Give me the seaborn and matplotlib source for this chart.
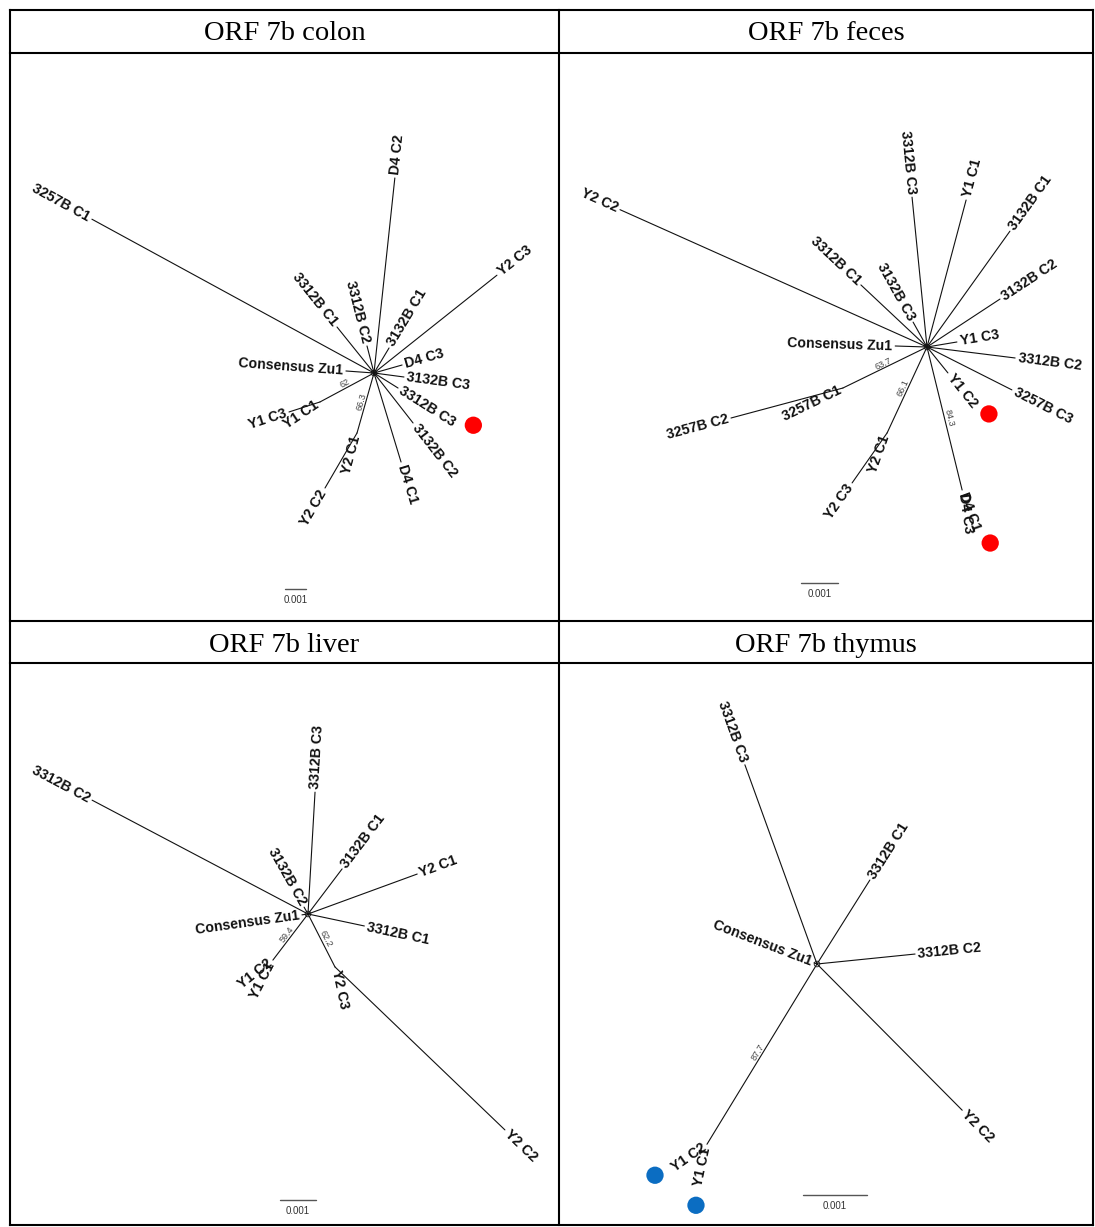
import math
import numpy as np
import pandas as pd
import matplotlib
matplotlib.use("Agg")
import matplotlib.pyplot as plt
import seaborn as sns

# ---------------------------------------------------------------------------
# Unrooted ORF 7b trees.  Branch angles in degrees (counter-clockwise from
# east), branch lengths in units of 0.001 substitutions/site.
# Leaves with a clade name hang from the end of that clade's internal branch.
# ---------------------------------------------------------------------------

# colon
colon_clades = ["Y1", "Y2"]
colon_clade_angle = [208.2, 254.2]
colon_clade_length = [2.92, 2.97]
colon_clade_support = ["62", "66.3"]
colon_leaves = ["3257B C1", "D4 C2", "Y2 C3", "3312B C1", "3312B C2", "3132B C1",
                "D4 C3", "3132B C3", "3312B C3", "3132B C2", "D4 C1",
                "Consensus Zu1", "Y2 C2", "Y2 C1", "Y1 C3", "Y1 C1"]
colon_leaf_clade = ["", "", "", "", "", "", "", "", "", "", "", "",
                    "Y2", "Y2", "Y1", "Y1"]
colon_leaf_angle = [151.4, 83.9, 38.5, 128.8, 104.5, 59.0, 15.9, -7.6, -32.0,
                    -52.0, -73.1, 175.9, 239.8, 255.0, 197.9, 214.0]
colon_leaf_length = [15.3, 9.34, 7.48, 2.81, 1.33, 1.39, 1.39, 1.44, 1.35,
                     3.02, 4.43, 1.34, 3.03, 0.0, 1.55, 0.0]

# feces
feces_clades = ["3257B", "Y2", "D4"]
feces_clade_angle = [206.0, 245.1, 283.8]
feces_clade_length = [2.53, 2.56, 3.98]
feces_clade_support = ["63.7", "66.1", "84.3"]
feces_leaves = ["Y2 C2", "3312B C3", "Y1 C1", "3132B C1", "3312B C1", "3132B C3",
                "3132B C2", "Y1 C3", "3312B C2", "3257B C3", "Y1 C2",
                "Consensus Zu1", "3257B C2", "3257B C1", "Y2 C3", "Y2 C1",
                "D4 C1", "D4 C3"]
feces_leaf_clade = ["", "", "", "", "", "", "", "", "", "", "", "",
                    "3257B", "3257B", "Y2", "Y2", "D4", "D4"]
feces_leaf_angle = [155.9, 95.7, 75.1, 54.4, 136.8, 119.2, 33.3, 9.5, -7.1,
                    -26.8, -51.1, 178.2, 195.0, 206.0, 235.0, 250.0, 290.0, 278.0]
feces_leaf_length = [9.09, 4.07, 4.11, 3.85, 2.45, 0.77, 2.36, 0.82, 2.40,
                     2.57, 0.90, 0.86, 3.13, 0.0, 1.65, 0.0, 0.0, 0.0]

# liver
liver_clades = ["Y1", "Y2"]
liver_clade_angle = [232.7, 297.0]
liver_clade_length = [1.61, 1.65]
liver_clade_support = ["59.4", "62.2"]
liver_leaves = ["3312B C2", "3312B C3", "3132B C1", "Y2 C1", "3312B C1",
                "3132B C2", "Consensus Zu1", "Y1 C2", "Y1 C1", "Y2 C3", "Y2 C2"]
liver_leaf_clade = ["", "", "", "", "", "", "", "Y1", "Y1", "Y2", "Y2"]
liver_leaf_angle = [152.2, 86.7, 52.9, 20.1, -12.0, 119.7, 188.0, 218.0, 243.0,
                    282.0, 316.2]
liver_leaf_length = [6.78, 3.39, 1.57, 3.23, 1.60, 0.22, 0.17, 0.0, 0.0, 0.0, 6.54]

# thymus
thymus_clades = ["Y1"]
thymus_clade_angle = [238.6]
thymus_clade_length = [3.30]
thymus_clade_support = ["87.7"]
thymus_leaves = ["3312B C3", "3312B C1", "3312B C2", "Consensus Zu1", "Y2 C2",
                 "Y1 C2", "Y1 C1"]
thymus_leaf_clade = ["", "", "", "", "", "Y1", "Y1"]
thymus_leaf_angle = [109.9, 57.8, 5.8, 159.0, -45.2, 215.0, 258.0]
thymus_leaf_length = [3.31, 1.55, 1.54, 0.05, 3.22, 0.0, 0.0]

titles = ["ORF 7b colon", "ORF 7b feces", "ORF 7b liver", "ORF 7b thymus"]
scale_value = 0.001
scale_label = "0.001"

# highlighted leaves: (panel, leaf, colour)
highlights = [("colon", "3312B C3", "#ff0000"),
              ("feces", "Y1 C2", "#ff0000"),
              ("feces", "D4 C1", "#ff0000"),
              ("thymus", "Y1 C2", "#0b6dc2"),
              ("thymus", "Y1 C1", "#0b6dc2")]

# ---------------------------------------------------------------------------
# layout (figure pixels)
# ---------------------------------------------------------------------------
W, H = 1095, 1227
layout = {
    "colon":  dict(center=(374, 373), ppu=21, bar=(295.5, 589)),
    "feces":  dict(center=(927, 347), ppu=37, bar=(819.5, 583)),
    "liver":  dict(center=(308, 914), ppu=36, bar=(298.0, 1200)),
    "thymus": dict(center=(817, 964), ppu=64, bar=(834.5, 1195)),
}
# dot offsets from the leaf tip: (distance px, screen angle deg)
dot_offset = {("colon", "3312B C3"): (84, -26.3),
              ("feces", "Y1 C2"): (58, -45.0),
              ("feces", "D4 C1"): (60, -62.1),
              ("thymus", "Y1 C2"): (60.5, 210.8),
              ("thymus", "Y1 C1"): (62, 259.8)}

trees = {
    "colon": (colon_clades, colon_clade_angle, colon_clade_length, colon_clade_support,
              colon_leaves, colon_leaf_clade, colon_leaf_angle, colon_leaf_length),
    "feces": (feces_clades, feces_clade_angle, feces_clade_length, feces_clade_support,
              feces_leaves, feces_leaf_clade, feces_leaf_angle, feces_leaf_length),
    "liver": (liver_clades, liver_clade_angle, liver_clade_length, liver_clade_support,
              liver_leaves, liver_leaf_clade, liver_leaf_angle, liver_leaf_length),
    "thymus": (thymus_clades, thymus_clade_angle, thymus_clade_length, thymus_clade_support,
               thymus_leaves, thymus_leaf_clade, thymus_leaf_angle, thymus_leaf_length),
}

sns.set_theme(style="white")
plt.rcParams["font.family"] = ["Liberation Sans", "DejaVu Sans"]

fig = plt.figure(figsize=(W / 100, H / 100), dpi=100)
ax = fig.add_axes([0, 0, 1, 1])


def unit(a):
    r = math.radians(a)
    return math.cos(r), -math.sin(r)   # y grows downward on screen


def readable(a):
    a = (a + 180.0) % 360.0 - 180.0
    if -90.0 < a <= 90.0:
        return a, "left"
    return (a - 180.0 if a > 0 else a + 180.0), "right"


tree_segments = []
bar_segments = []
labels = []
supports = []
centers = []
dots = []
seg_id = 0

for name, (cl, cl_a, cl_l, cl_s, lv, lv_c, lv_a, lv_l) in trees.items():
    cx, cy = layout[name]["center"]
    ppu = layout[name]["ppu"]
    centers.append((cx, cy))
    node = {"": (cx, cy)}
    for c, a, L, s in zip(cl, cl_a, cl_l, cl_s):
        ux, uy = unit(a)
        ex, ey = cx + ux * L * ppu, cy + uy * L * ppu
        node[c] = (ex, ey)
        tree_segments += [(seg_id, cx, cy), (seg_id, ex, ey)]
        seg_id += 1
        rot, _ = readable(a)
        supports.append(((cx + ex) / 2, (cy + ey) / 2, s, rot))
    for leaf, c, a, L in zip(lv, lv_c, lv_a, lv_l):
        sx, sy = node[c]
        ux, uy = unit(a)
        ex, ey = sx + ux * L * ppu, sy + uy * L * ppu
        if L > 0:
            tree_segments += [(seg_id, sx, sy), (seg_id, ex, ey)]
            seg_id += 1
        rot, ha = readable(a)
        labels.append((ex + ux * 3, ey + uy * 3, leaf, rot, ha))
        for (p, hl, col) in highlights:
            if p == name and hl == leaf:
                d, da = dot_offset[(p, hl)]
                dx, dy = unit(da)
                dots.append((ex + dx * d, ey + dy * d, col))
    # scale bar of 0.001 substitutions/site
    bx, by = layout[name]["bar"]
    half = scale_value * 1000 * ppu / 2
    bar_segments += [(seg_id, bx - half, by), (seg_id, bx + half, by)]
    seg_id += 1

tree_df = pd.DataFrame(tree_segments, columns=["seg", "x", "y"])
bar_df = pd.DataFrame(bar_segments, columns=["seg", "x", "y"])

sns.lineplot(data=tree_df, x="x", y="y", units="seg", estimator=None, sort=False,
             color="#111111", linewidth=0.8, ax=ax, legend=False)
sns.lineplot(data=bar_df, x="x", y="y", units="seg", estimator=None, sort=False,
             color="#555555", linewidth=1.0, ax=ax, legend=False)

# small hub at each tree centre
cdf = pd.DataFrame(centers, columns=["x", "y"])
sns.scatterplot(data=cdf, x="x", y="y", s=16, facecolor="none", edgecolor="#333333",
                linewidth=0.7, ax=ax, legend=False)

# highlight dots
ddf = pd.DataFrame(dots, columns=["x", "y", "c"])
sns.scatterplot(data=ddf, x="x", y="y", hue="c", palette={c: c for c in ddf["c"].unique()},
                s=155, edgecolor="none", ax=ax, legend=False)

for x, y, t, rot, ha in labels:
    ax.text(x, y, t, rotation=rot, ha=ha, va="center", rotation_mode="anchor",
            fontsize=10.2, fontweight="bold", color="#111111")

for x, y, t, rot in supports:
    ax.text(x, y, t, rotation=rot, ha="center", va="bottom", rotation_mode="anchor",
            fontsize=6.5, color="#444444")

for name in trees:
    bx, by = layout[name]["bar"]
    ax.text(bx, by + 11, scale_label, ha="center", va="center", fontsize=7,
            color="#333333")

# table frame and headers
lw = 1.5
left, right, top, bottom, mid = 10, 1093, 10, 1225, 559
for y in [top, 53, 621, 663, bottom]:
    ax.plot([left, right], [y, y], color="black", lw=lw, solid_capstyle="projecting")
for x in [left, mid, right]:
    ax.plot([x, x], [top, bottom], color="black", lw=lw, solid_capstyle="projecting")

head_pos = [((left + mid) / 2, 34), ((mid + right) / 2, 34),
            ((left + mid) / 2, 645), ((mid + right) / 2, 645)]
for (hx, hy), t in zip(head_pos, titles):
    ax.text(hx, hy, t, ha="center", va="center", fontsize=20.5,
            family=["Liberation Serif", "DejaVu Serif"], color="black")

ax.set_xlim(0, W)
ax.set_ylim(H, 0)
ax.axis("off")
fig.savefig("out.png", dpi=100)
